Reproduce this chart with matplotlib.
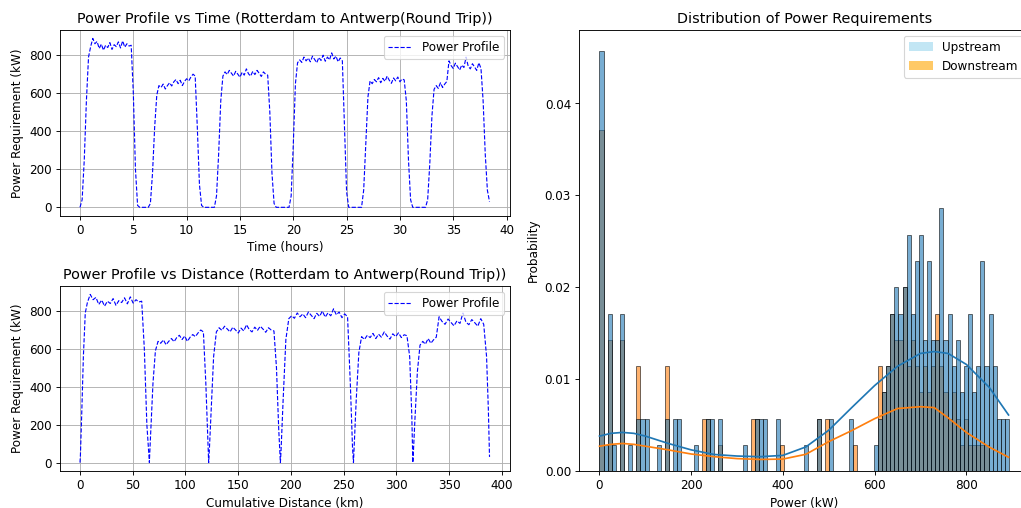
import numpy as np
import matplotlib
matplotlib.use("Agg")
import matplotlib.pyplot as plt
from matplotlib.patches import Patch

plt.rcParams["font.size"] = 10.55

# --- power profile, one sample every 0.2 h --------------------------------
TIME_STEP_H = 0.2

power_kw = [
    # start-up
    0, 40, 250, 560, 790,
    # leg 1
    845, 888, 860, 872, 835, 858, 826, 852, 840, 866,
    830, 855, 845, 870, 838, 875, 842, 860, 848, 852,
    600, 200, 10,
    0, 0, 0, 0, 0,
    20, 180, 420, 590, 640,
    # leg 2
    630, 648, 622, 640, 655, 638, 660, 672, 650, 668,
    640, 662, 676, 665, 685, 700, 690,
    420, 120, 10,
    0, 0, 0, 0, 0, 0,
    60, 280, 560, 690,
    # leg 3
    712, 698, 720, 705, 690, 715, 700, 684, 710, 695,
    728, 702, 690, 715, 698, 720, 705, 688, 712, 700, 695,
    500, 180, 20,
    0, 0, 0, 0, 0, 0, 0,
    60, 330, 650, 760,
    # leg 4
    775, 762, 790, 770, 785, 765, 795, 778, 760, 788,
    772, 800, 768, 790, 775, 812, 780, 795, 765, 785, 770,
    420, 80,
    0, 0, 0, 0, 0, 0, 0,
    90, 330, 580, 665,
    # leg 5
    650, 672, 660, 682, 655, 678, 662, 690, 668, 652,
    680, 665, 685, 660, 675, 670,
    560, 250, 40,
    0, 0, 0, 0, 0, 0, 0,
    40, 230, 480, 620,
    # leg 6
    640, 625, 655, 630, 648, 662,
    770, 745, 730, 758, 740, 722, 748, 735, 790, 742,
    728, 755, 738, 720, 760, 730,
    560, 280, 90, 30,
]

distance_km = [
    0.0, 0.4, 1.6, 3.2, 5.0,
    7.0, 9.7, 12.4, 15.1, 17.8, 20.6, 23.3, 26.0, 28.7, 31.4,
    34.1, 36.8, 39.5, 42.2, 44.9, 47.7, 50.4, 53.1, 55.8, 58.5,
    61.0, 63.4, 65.6,
    65.8, 65.8, 65.8, 65.8, 65.8,
    65.9, 67.2, 69.2, 71.5, 74.0,
    76.5, 79.1, 81.6, 84.1, 86.7, 89.2, 91.7, 94.2, 96.8, 99.3,
    101.8, 104.4, 106.9, 109.4, 112.0, 114.5, 117.0,
    119.3, 121.2, 122.0,
    122.0, 122.0, 122.0, 122.0, 122.0, 122.0,
    122.6, 124.4, 126.7, 129.3,
    131.9, 134.5, 137.1, 139.7, 142.3, 144.9, 147.5, 150.1, 152.7, 155.3,
    157.9, 160.5, 163.1, 165.7, 168.3, 170.9, 173.5, 176.1, 178.7, 181.3, 183.9,
    186.3, 188.4, 189.8,
    190.0, 190.0, 190.0, 190.0, 190.0, 190.0, 190.0,
    190.6, 192.6, 195.2, 198.0,
    200.7, 203.3, 206.0, 208.6, 211.3, 213.9, 216.6, 219.2, 221.9, 224.5,
    227.2, 229.8, 232.5, 235.1, 237.8, 240.4, 243.1, 245.7, 248.4, 251.0, 253.7,
    256.3, 258.4,
    259.3, 259.3, 259.3, 259.3, 259.3, 259.3, 259.3,
    260.0, 261.9, 264.4, 267.0,
    269.7, 272.4, 275.1, 277.8, 280.5, 283.1, 285.8, 288.5, 291.2, 293.9,
    296.6, 299.3, 302.0, 304.7, 307.4, 310.0,
    312.6, 314.6, 315.5,
    315.6, 315.6, 315.6, 315.6, 315.6, 315.6, 315.6,
    316.0, 317.6, 319.9, 322.4,
    325.0, 327.5, 330.1, 332.7, 335.2, 337.8,
    340.5, 343.3, 346.1, 349.0, 351.8, 354.6, 357.4, 360.3, 363.1, 365.9,
    368.7, 371.5, 374.4, 377.2, 380.0, 382.8,
    385.5, 387.2, 388.0, 388.3,
]

# --- histogram of power requirements (counts per bin) ----------------------
BIN_WIDTH_KW = 8.93
N_SAMPLES = 350

upstream_counts = [
    16, 1, 6, 1, 0, 6, 0, 1, 0, 2,
    2, 2, 0, 0, 1, 0, 2, 0, 2, 2,
    0, 0, 0, 1, 0, 0, 2, 2, 0, 2,
    0, 0, 0, 0, 0, 1, 0, 0, 2, 2,
    2, 0, 0, 2, 0, 0, 0, 0, 0, 0,
    1, 0, 0, 2, 0, 0, 2, 0, 0, 0,
    0, 2, 0, 0, 0, 0, 0, 1, 2, 3,
    4, 6, 7, 6, 7, 9, 6, 8, 9, 5,
    8, 5, 5, 10, 5, 6, 4, 5, 3, 4,
    6, 3, 4, 8, 4, 6, 4, 2, 2, 2,
]

downstream_counts = [
    13, 0, 5, 0, 0, 5, 0, 0, 0, 4,
    0, 0, 0, 0, 0, 0, 4, 0, 0, 0,
    0, 0, 0, 0, 0, 2, 2, 0, 0, 1,
    0, 0, 0, 0, 0, 0, 0, 2, 2, 0,
    0, 0, 0, 0, 1, 0, 0, 0, 0, 0,
    0, 0, 0, 2, 0, 2, 0, 0, 0, 0,
    0, 0, 1, 0, 0, 0, 0, 0, 4, 3,
    4, 6, 5, 5, 7, 4, 5, 4, 3, 4,
    3, 4, 6, 4, 3, 2, 3, 2, 1, 2,
    1, 1, 1, 1, 1, 0, 0, 0, 0, 0,
]

# KDE curves (probability scale)
kde_kw = [0, 25, 50, 75, 100, 150, 200, 250, 300, 350, 400, 450, 500,
          550, 600, 650, 700, 730, 760, 800, 850, 892]
upstream_kde = [0.0038, 0.0041, 0.0042, 0.0041, 0.0038, 0.0030, 0.0023,
                0.0018, 0.00163, 0.00156, 0.0017, 0.00262, 0.00444,
                0.0069, 0.0093, 0.0114, 0.0128, 0.0130, 0.0128, 0.0116,
                0.0091, 0.0061]
downstream_kde = [0.0027, 0.0029, 0.0030, 0.0029, 0.0027, 0.0023, 0.00185,
                  0.00156, 0.00135, 0.00126, 0.0013, 0.00182, 0.0032,
                  0.0044, 0.0057, 0.0068, 0.0070, 0.0069, 0.0058, 0.0042,
                  0.0026, 0.0015]

TITLE_ROUTE = "(Rotterdam to Antwerp(Round Trip))"

time_h = np.arange(len(power_kw)) * TIME_STEP_H
bin_left = np.arange(len(upstream_counts)) * BIN_WIDTH_KW
up_prob = np.array(upstream_counts) / N_SAMPLES
down_prob = np.array(downstream_counts) / N_SAMPLES

fig = plt.figure(figsize=(12.5, 6.22), dpi=81.68)
ax_time = fig.add_axes([0.0583, 0.5752, 0.4412, 0.3657])
ax_dist = fig.add_axes([0.0583, 0.0728, 0.4412, 0.3642])
ax_hist = fig.add_axes([0.5671, 0.0728, 0.4412, 0.8681])

ax_time.plot(time_h, power_kw, color="blue", linestyle="--", linewidth=1,
             label="Power Profile")
ax_time.set_title(f"Power Profile vs Time {TITLE_ROUTE}")
ax_time.set_xlabel("Time (hours)")
ax_time.set_ylabel("Power Requirement (kW)")
ax_time.grid(True)
ax_time.legend(loc="upper right")

ax_dist.plot(distance_km, power_kw, color="blue", linestyle="--", linewidth=1,
             label="Power Profile")
ax_dist.set_title(f"Power Profile vs Distance {TITLE_ROUTE}")
ax_dist.set_xlabel("Cumulative Distance (km)")
ax_dist.set_ylabel("Power Requirement (kW)")
ax_dist.grid(True)
ax_dist.legend(loc="upper right")

# downstream drawn first so the blue layer sits on top
ax_hist.bar(bin_left, down_prob, width=BIN_WIDTH_KW, align="edge",
            color="C1", alpha=0.6, edgecolor="black", linewidth=0.8)
ax_hist.bar(bin_left, up_prob, width=BIN_WIDTH_KW, align="edge",
            color="C0", alpha=0.6, edgecolor="black", linewidth=0.8)
ax_hist.plot(kde_kw, upstream_kde, color="C0", linewidth=1.5)
ax_hist.plot(kde_kw, downstream_kde, color="C1", linewidth=1.5)
ax_hist.set_title("Distribution of Power Requirements")
ax_hist.set_xlabel("Power (kW)")
ax_hist.set_ylabel("Probability")
handles = [Patch(facecolor="skyblue", alpha=0.5, label="Upstream"),
           Patch(facecolor="orange", alpha=0.6, label="Downstream")]
ax_hist.legend(handles=handles, loc="upper right")

fig.savefig("out.png", dpi=81.68)
